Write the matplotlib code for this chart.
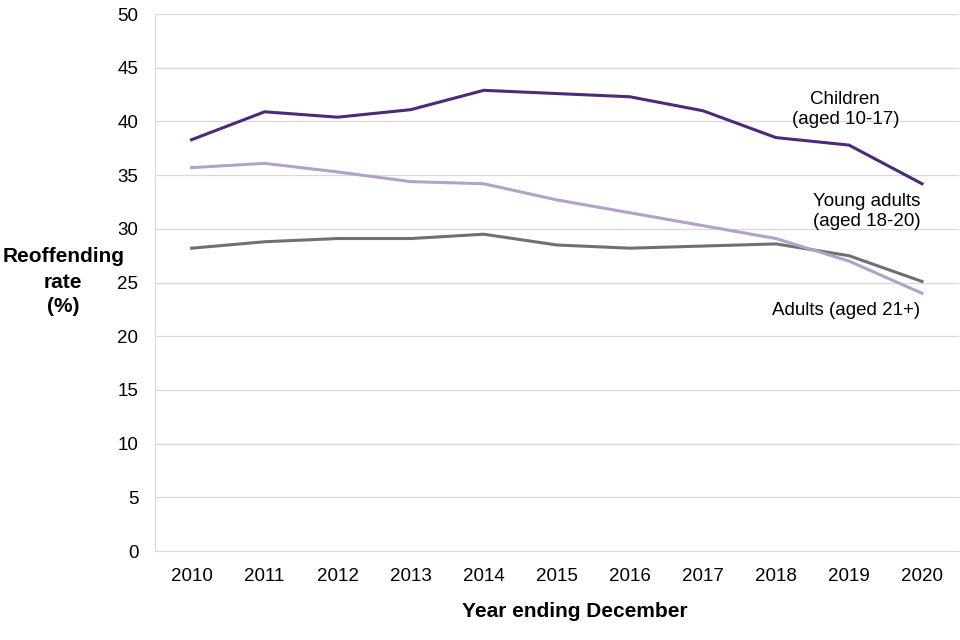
#!/usr/bin/env python3
"""Proven reoffending rate by age group, 2010 to 2020."""

import matplotlib
matplotlib.use("Agg")
import matplotlib.pyplot as plt

plt.rcParams["font.family"] = ["Liberation Sans", "DejaVu Sans"]

years = [2010, 2011, 2012, 2013, 2014, 2015, 2016, 2017, 2018, 2019, 2020]
children = [38.3, 40.9, 40.4, 41.1, 42.9, 42.6, 42.3, 41.0, 38.5, 37.8, 34.2]
young_adults = [35.7, 36.1, 35.3, 34.4, 34.2, 32.7, 31.5, 30.3, 29.1, 27.0, 24.0]
adults = [28.2, 28.8, 29.1, 29.1, 29.5, 28.5, 28.2, 28.4, 28.6, 27.5, 25.1]

grid_col = "#d9d9d9"

fig = plt.figure(figsize=(9.6, 6.4), dpi=100)
ax = fig.add_axes([0.1615, 0.139, 0.837, 0.839])

ax.plot(years, adults, color="#707070", linewidth=2.2)
ax.plot(years, young_adults, color="#b3a1cc", linewidth=2.2)
ax.plot(years, children, color="#4b2a78", linewidth=2.2)

ax.set_xlim(2009.5, 2020.5)
ax.set_ylim(0, 50)
ax.set_xticks(years)
ax.set_yticks(range(0, 51, 5))
ax.tick_params(length=0, labelsize=13.5, colors="black")
ax.tick_params(axis="x", pad=12)
ax.tick_params(axis="y", pad=12)
ax.grid(axis="y", color=grid_col, linewidth=0.9)
ax.set_axisbelow(True)
for side in ["top", "right"]:
    ax.spines[side].set_visible(False)
for side in ["left", "bottom"]:
    ax.spines[side].set_color(grid_col)

# series labels
ax.text(2018.95, 41.1, "Children\n(aged 10-17)", ha="center", va="center",
        fontsize=13.5, linespacing=1.2)
ax.text(2019.98, 31.6, "Young adults\n(aged 18-20)", ha="right", va="center",
        fontsize=13.5, linespacing=1.2)
ax.text(2019.98, 22.4, "Adults (aged 21+)", ha="right", va="center", fontsize=13.5)

# y axis title, one line at a time (sits left of the tick labels)
for line, y in zip(["Reoffending", "rate", "(%)"], [0.600, 0.559, 0.521]):
    fig.text(0.066, y, line, ha="center", va="center",
             fontsize=15, fontweight="bold")
fig.text(0.599, 0.045, "Year ending December", ha="center", va="center",
         fontsize=15, fontweight="bold")

fig.savefig("out.png", dpi=100)
